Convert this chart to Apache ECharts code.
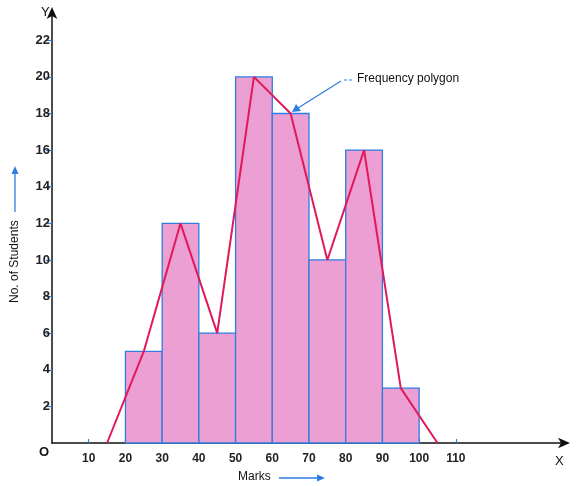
<!DOCTYPE html>
<html>
<head>
<meta charset="utf-8">
<script src="https://cdn.jsdelivr.net/npm/echarts@6/dist/echarts.min.js"></script>
<style>
  html, body { margin: 0; padding: 0; background: #fff; }
  #main { width: 585px; height: 486px; }
</style>
</head>
<body>
<div id="main"></div>
<script>
// class intervals (lower bound, upper bound) and frequencies
const classStart = [20, 30, 40, 50, 60, 70, 80, 90];
const classEnd = [30, 40, 50, 60, 70, 80, 90, 100];
const students = [5, 12, 6, 20, 18, 10, 16, 3];

// frequency polygon: class marks plus empty classes at both ends
const polyMarks = [15, 25, 35, 45, 55, 65, 75, 85, 95, 105];
const polyFreq = [0, 5, 12, 6, 20, 18, 10, 16, 3, 0];

const xTicks = [10, 20, 30, 40, 50, 60, 70, 80, 90, 100, 110];
const yTicks = [2, 4, 6, 8, 10, 12, 14, 16, 18, 20, 22];

const FONT = 'Liberation Sans, Arial, sans-serif';
const BLUE = '#2f7de0';
const RED = '#e2185a';

const chart = echarts.init(document.getElementById('main'));

const histData = classStart.map((s, i) => [s, classEnd[i], students[i]]);
const polyData = polyMarks.map((m, i) => [m, polyFreq[i]]);

chart.setOption({
  animation: false,
  grid: { left: 52, right: 19, top: 11, bottom: 43 },
  xAxis: {
    type: 'value', min: 0, max: 140,
    axisLine: { show: true, symbol: ['none', 'arrow'], symbolSize: [8, 12], symbolOffset: [0, 4], lineStyle: { color: '#111', width: 1.5 } },
    axisTick: { show: true, inside: true, length: 4, customValues: xTicks, lineStyle: { color: BLUE, width: 1.2 } },
    axisLabel: { customValues: xTicks, margin: 10, color: '#222', fontFamily: FONT, fontSize: 12, fontWeight: 'bold' },
    splitLine: { show: false }
  },
  yAxis: {
    type: 'value', min: 0, max: 23.6,
    axisLine: { show: true, symbol: ['none', 'arrow'], symbolSize: [8, 12], symbolOffset: [0, 4], lineStyle: { color: '#111', width: 1.5 } },
    axisTick: { show: true, length: 6, customValues: yTicks, lineStyle: { color: BLUE, width: 1.2 } },
    axisLabel: { customValues: yTicks, margin: 2, color: '#222', fontFamily: FONT, fontSize: 13, fontWeight: 'bold' },
    splitLine: { show: false }
  },
  series: [
    {
      type: 'custom',
      data: histData,
      encode: { x: [0, 1], y: 2 },
      renderItem: function (params, api) {
        const p0 = api.coord([api.value(0), api.value(2)]);
        const p1 = api.coord([api.value(1), 0]);
        return {
          type: 'rect',
          shape: { x: p0[0], y: p0[1], width: p1[0] - p0[0], height: p1[1] - p0[1] },
          style: { fill: '#ec9fd2', stroke: BLUE, lineWidth: 1.3 }
        };
      },
      z: 2
    },
    {
      type: 'line',
      data: polyData,
      symbol: 'none',
      lineStyle: { color: RED, width: 2 },
      z: 3
    }
  ],
  graphic: [
    { type: 'text', left: 41, top: 6, style: { text: 'Y', font: '13px ' + FONT, fill: '#111' } },
    { type: 'text', left: 555, top: 455, style: { text: 'X', font: '13px ' + FONT, fill: '#111' } },
    { type: 'text', left: 39, top: 446, style: { text: 'O', font: 'bold 13px ' + FONT, fill: '#111' } },
    // x axis title with arrow
    { type: 'text', left: 238, top: 471, style: { text: 'Marks', font: '12px ' + FONT, fill: '#111' } },
    { type: 'line', shape: { x1: 279, y1: 478, x2: 318, y2: 478 }, style: { stroke: BLUE, lineWidth: 1.3 } },
    { type: 'polygon', shape: { points: [[325, 478], [317, 474.5], [317, 481.5]] }, style: { fill: BLUE } },
    // y axis title with arrow
    { type: 'text', x: 15, y: 303, rotation: Math.PI / 2,
      style: { text: 'No. of Students', font: '12px ' + FONT, fill: '#111', align: 'left', verticalAlign: 'middle' } },
    { type: 'line', shape: { x1: 15, y1: 212, x2: 15, y2: 174 }, style: { stroke: BLUE, lineWidth: 1.3 } },
    { type: 'polygon', shape: { points: [[15, 166], [11.5, 174], [18.5, 174]] }, style: { fill: BLUE } },
    // annotation
    { type: 'text', left: 357, top: 73, style: { text: 'Frequency polygon', font: '12px ' + FONT, fill: '#111' } },
    { type: 'line', shape: { x1: 344, y1: 80, x2: 353, y2: 80 }, style: { stroke: BLUE, lineWidth: 1.2, lineDash: [3, 2] } },
    { type: 'line', shape: { x1: 341, y1: 81, x2: 298, y2: 108 }, style: { stroke: BLUE, lineWidth: 1.2 } },
    { type: 'polygon', shape: { points: [[292, 112], [296, 104], [301, 111]] }, style: { fill: BLUE } }
  ]
});
</script>
</body>
</html>
